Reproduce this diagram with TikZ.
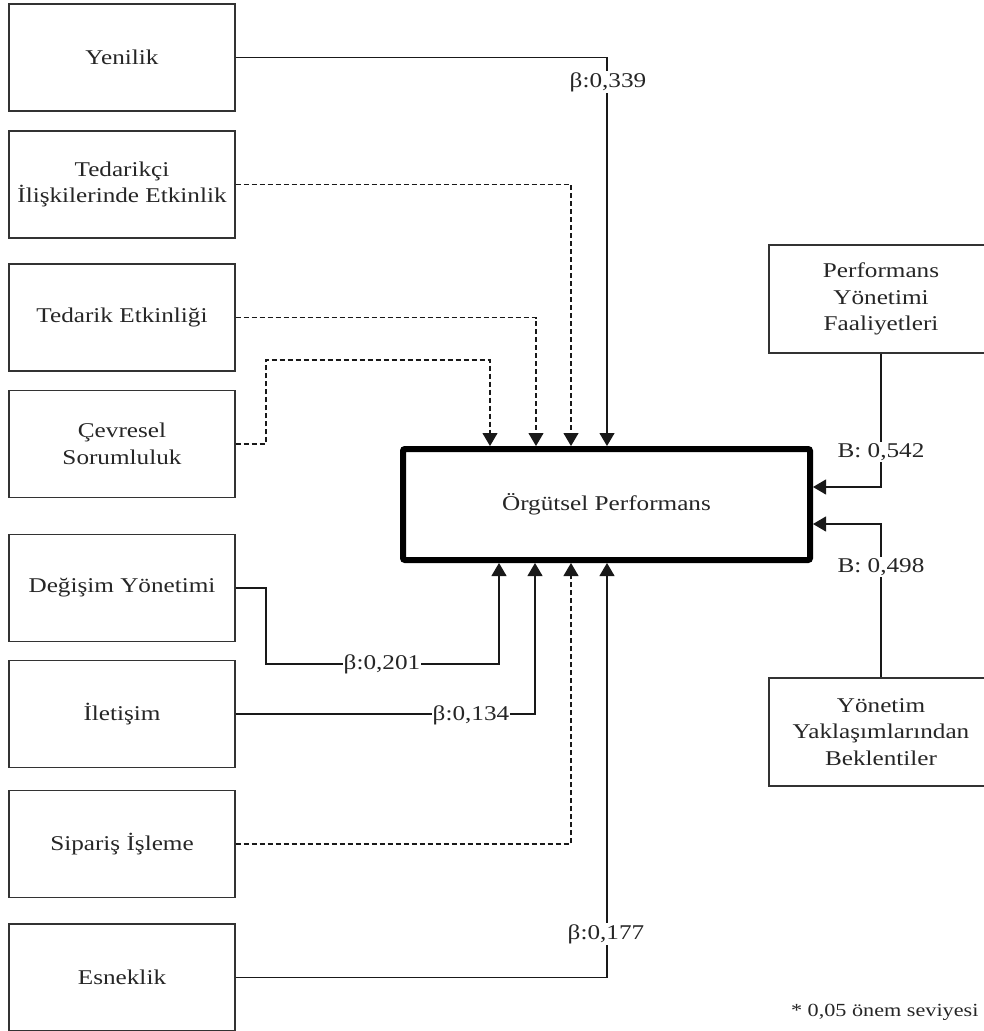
\documentclass[tikz,border=0pt]{standalone}
\usepackage{fontspec}
\setmainfont{Liberation Serif}[FakeStretch=1.2]
\usetikzlibrary{arrows.meta}
\begin{document}
\begin{tikzpicture}[x=1pt,y=-1pt,
  every node/.style={font=\fontsize{21}{26.7}\selectfont, text=black!85},
  box/.style={draw=black!80, line width=1.1pt, minimum width=226pt, minimum height=107pt,
              align=center, inner sep=2pt, fill=white},
  mainbox/.style={draw=black, line width=6pt, rounded corners=2pt,
                  minimum width=407pt, minimum height=111pt, fill=white},
  wire/.style={draw=black!90, line width=1.1pt},
  tipwire/.style={wire, -{Triangle[length=13pt,width=15pt]}},
  dashwire/.style={tipwire, dash pattern=on 5pt off 3pt},
  coef/.style={fill=white, inner sep=1pt}
]
\clip (0,0) rectangle (984,1031);

% factor boxes on the left
\node[box] (yen) at (122,57.5)  {Yenilik};
\node[box] (ted) at (122,184.5) {Tedarikçi\\İlişkilerinde Etkinlik};
\node[box] (tde) at (122,317.5) {Tedarik Etkinliği};
\node[box] (cev) at (122,444)   {Çevresel\\Sorumluluk};
\node[box] (deg) at (122,588)   {Değişim Yönetimi};
\node[box] (ile) at (122,714)   {İletişim};
\node[box] (sip) at (122,844)   {Sipariş İşleme};
\node[box] (esn) at (122,977.5) {Esneklik};

% outcome
\node[mainbox] (org) at (606.5,504.5) {Örgütsel Performans};

% moderators on the right
\node[box, minimum width=224pt, minimum height=108pt] (pyf) at (881,299) {Performans\\Yönetimi\\Faaliyetleri};
\node[box, minimum width=224pt, minimum height=108pt] (ybk) at (881,732) {Yönetim\\Yaklaşımlarından\\Beklentiler};

% paths into the top of the outcome box
\draw[tipwire]  (yen.east) -| ([xshift=0.5pt]org.north);
\draw[dashwire] (ted.east) -| ([xshift=-35.5pt]org.north);
\draw[dashwire] (tde.east) -| ([xshift=-70.5pt]org.north);
\coordinate (cevA) at (266,444);
\coordinate (cevB) at (266,360);
\draw[dashwire] (cev.east) -- (cevA) -- (cevB) -| ([xshift=-116.5pt]org.north);

% paths into the bottom of the outcome box
\coordinate (degA) at (266,588);
\coordinate (degB) at (266,664);
\draw[tipwire]  (deg.east) -- (degA) -- (degB) -| ([xshift=-107.5pt]org.south);
\draw[tipwire]  (ile.east) -| ([xshift=-71.5pt]org.south);
\draw[dashwire] (sip.east) -| ([xshift=-35.5pt]org.south);
\draw[tipwire]  (esn.east) -| ([xshift=0.5pt]org.south);

% paths into the right side
\draw[tipwire] (pyf.south) |- ([yshift=17.5pt]org.east);
\draw[tipwire] (ybk.north) |- ([yshift=-19.5pt]org.east);

% coefficients
\node[coef] (c1) at (608,82)  {β:0,339};
\node[coef] (c2) at (382,664) {β:0,201};
\node[coef] (c3) at (471,715) {β:0,134};
\node[coef] (c4) at (606,934) {β:0,177};
\node[coef] (c5) at (881,452) {B: 0,542};
\node[coef] (c6) at (881,567) {B: 0,498};

% footnote
\node[anchor=east, font=\fontsize{18.5}{22}\selectfont] (note) at (982,1012) {* 0,05 önem seviyesi};
\end{tikzpicture}
\end{document}
